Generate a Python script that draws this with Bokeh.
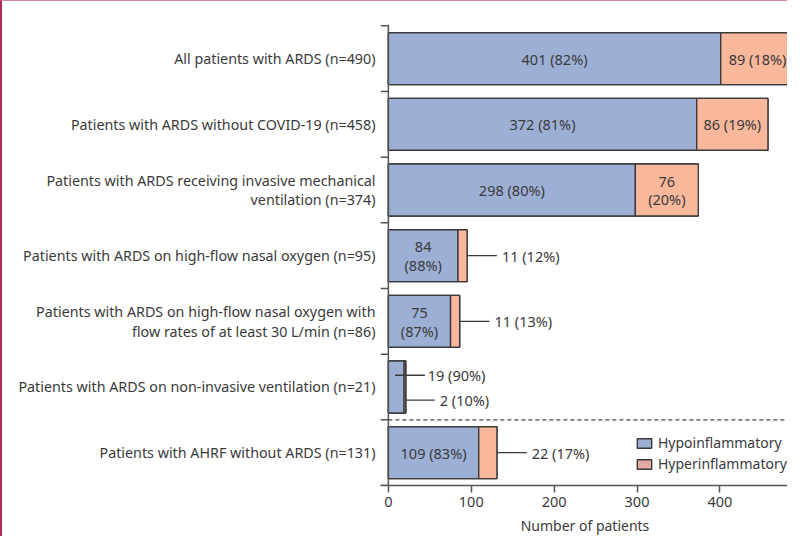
from bokeh.plotting import figure
from bokeh.models import Range1d, FixedTicker, Legend, LegendItem, Span
from bokeh.core.properties import value
from bokeh.embed import file_html
from bokeh.resources import INLINE

categories = [
    "All patients with ARDS (n=490)",
    "Patients with ARDS without COVID-19 (n=458)",
    "Patients with ARDS receiving invasive mechanical\nventilation (n=374)",
    "Patients with ARDS on high-flow nasal oxygen (n=95)",
    "Patients with ARDS on high-flow nasal oxygen with\nflow rates of at least 30 L/min (n=86)",
    "Patients with ARDS on non-invasive ventilation (n=21)",
    "Patients with AHRF without ARDS (n=131)",
]
hypo = [401, 372, 298, 84, 75, 19, 109]
hyper = [89, 86, 76, 11, 11, 2, 22]
hypo_pct = [82, 81, 80, 88, 87, 90, 83]
hyper_pct = [18, 19, 20, 12, 13, 10, 17]
x_ticks = [0, 100, 200, 300, 400]
series_names = ["Hypoinflammatory", "Hyperinflammatory"]
x_label = "Number of patients"

# label placement styles per row
hypo_mode = ["in", "in", "in", "in2", "in2", "up", "in"]
hyper_mode = ["in", "in", "in2", "lead", "lead", "down", "lead"]

FONT = value("Noto Sans")
TXT = "#3a3a3a"
BLUE = "#9eafd6"
SALMON = "#f9b89b"
LEG_SALMON = "#e4a7a2"
EDGE = "#3a3a3a"

n = len(categories)
yc = [n - 1 - i for i in range(n)]
total = [a + b for a, b in zip(hypo, hyper)]

p = figure(width=787, height=536, output_backend="svg", toolbar_location=None,
           x_range=Range1d(-9.5, 484), y_range=Range1d(-0.5, n - 0.48),
           min_border_left=378, min_border_right=0, min_border_top=23,
           min_border_bottom=51)
p.styles = {"border-left": "2px solid #b3285c", "border-top": "1px solid #d98aa2"}
p.grid.visible = False
p.outline_line_color = None
p.background_fill_color = "white"
p.border_fill_color = "white"

# legend swatch renderers (hidden beneath the real bars)
r1 = p.hbar(y=yc, left=0, right=hypo, height=0.79, fill_color=BLUE,
            line_color=EDGE, line_width=1.4, level="underlay")
r2 = p.hbar(y=yc, left=hypo, right=total, height=0.79, fill_color=LEG_SALMON,
            line_color=EDGE, line_width=1.4, level="underlay")

# bars
p.hbar(y=yc, left=0, right=hypo, height=0.79, fill_color=BLUE,
       line_color=EDGE, line_width=1.4)
p.hbar(y=yc, left=hypo, right=total, height=0.79, fill_color=SALMON,
       line_color=EDGE, line_width=1.4)

# texts
tx, ty, tt = [], [], []
lx0, lx1, ly = [], [], []
otx, oty, ott = [], [], []
for i in range(n):
    a, b = hypo[i], hyper[i]
    s1 = f"{a} ({hypo_pct[i]}%)"
    s2 = f"{b} ({hyper_pct[i]}%)"
    m = hypo_mode[i]
    if m == "in":
        tx.append(a / 2); ty.append(yc[i]); tt.append(s1)
    elif m == "in2":
        tx.append(a / 2); ty.append(yc[i]); tt.append(s1.replace(" ", "\n"))
    elif m == "up":
        lx0.append(a * 0.42); lx1.append(total[i] + 23); ly.append(yc[i] + 0.18)
        otx.append(total[i] + 26.5); oty.append(yc[i] + 0.18); ott.append(s1)
    m = hyper_mode[i]
    if m == "in":
        tx.append(a + b / 2); ty.append(yc[i]); tt.append(s2)
    elif m == "in2":
        tx.append(a + b / 2); ty.append(yc[i]); tt.append(s2.replace(" ", "\n"))
    elif m == "lead":
        lx0.append(total[i]); lx1.append(total[i] + 36); ly.append(yc[i])
        otx.append(total[i] + 42); oty.append(yc[i]); ott.append(s2)
    elif m == "down":
        lx0.append(total[i]); lx1.append(total[i] + 35); ly.append(yc[i] - 0.2)
        otx.append(total[i] + 41); oty.append(yc[i] - 0.2); ott.append(s2)

p.text(x=tx, y=ty, text=tt, text_align="center", text_baseline="middle",
       text_font=FONT, text_font_size="14.5px", text_color=TXT,
       text_line_height=0.93)
p.segment(x0=lx0, y0=ly, x1=lx1, y1=ly, line_color=EDGE, line_width=1.4)
p.text(x=otx, y=oty, text=ott, text_align="left", text_baseline="middle",
       text_font=FONT, text_font_size="14.5px", text_color=TXT)

# y axis line and boundary ticks
p.add_layout(Span(location=0, dimension="height", line_color="#555555", line_width=1.5))
bounds = [c + 0.5 for c in yc] + [yc[-1] - 0.5]
p.segment(x0=[-9.5] * len(bounds), y0=bounds, x1=[0] * len(bounds), y1=bounds,
          line_color="#555555", line_width=1.5)

# dashed separator before last group
sep = yc[-1] + 0.5
p.segment(x0=[0], y0=[sep], x1=[484], y1=[sep], line_color="#444444",
          line_width=1.2, line_dash="4 3")

# axes
xa = p.xaxis[0]
xa.ticker = FixedTicker(ticks=x_ticks)
xa.minor_tick_line_color = None
xa.major_tick_in = 0
xa.major_tick_out = 7
xa.major_tick_line_color = "#555555"
xa.major_tick_line_width = 1.5
xa.axis_line_color = "#555555"
xa.axis_line_width = 1.5
xa.major_label_standoff = 4
xa.major_label_text_font = "Noto Sans"
xa.major_label_text_font_size = "14.5px"
xa.major_label_text_color = TXT
xa.axis_label = x_label
xa.axis_label_text_font = "Noto Sans"
xa.axis_label_text_font_size = "14px"
xa.axis_label_text_font_style = "normal"
xa.axis_label_text_color = TXT
xa.axis_label_standoff = 6

ya = p.yaxis[0]
ya.ticker = FixedTicker(ticks=yc)
ya.major_label_overrides = {yc[i]: categories[i] for i in range(n)}
ya.axis_line_color = None
ya.major_tick_line_color = None
ya.minor_tick_line_color = None
ya.major_tick_out = 0
ya.major_tick_in = 0
ya.major_label_standoff = 5
ya.major_label_text_font = "Noto Sans"
ya.major_label_text_font_size = "14.3px"
ya.major_label_text_color = TXT
ya.major_label_text_line_height = 1.05

# legend
legend = Legend(items=[LegendItem(label=series_names[0], renderers=[r1]),
                       LegendItem(label=series_names[1], renderers=[r2])],
                location=(255, 12), border_line_color=None,
                background_fill_alpha=0, padding=0, margin=0,
                glyph_width=18, glyph_height=12, label_standoff=5, spacing=2,
                label_text_font="Noto Sans", label_text_font_size="14px",
                label_text_color=TXT, label_height=18)
p.add_layout(legend)

open("out.html", "w").write(file_html(p, INLINE))
